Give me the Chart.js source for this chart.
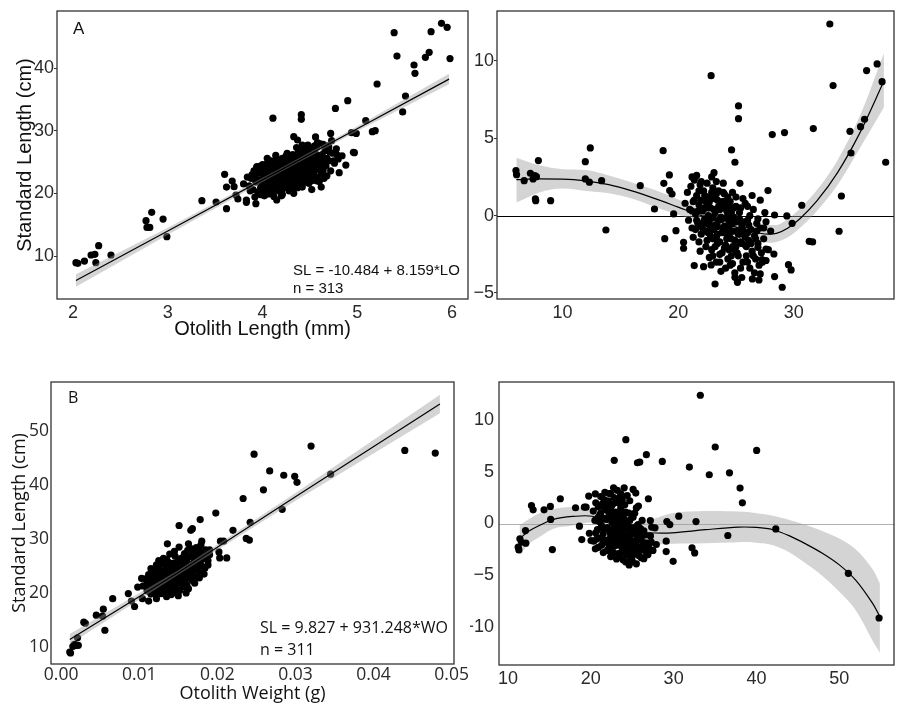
<!DOCTYPE html>
<html><head><meta charset="utf-8">
<script src="https://cdn.jsdelivr.net/npm/chart.js@4.4.1/dist/chart.umd.min.js"></script>
<style>
html,body{margin:0;padding:0;background:#fff;}
#wrap{position:relative;width:898px;height:705px;overflow:hidden;background:#fff;}
canvas{position:absolute;}
</style></head><body>
<div id="wrap">
<canvas id="cA" width="480" height="345" style="left:0;top:0"></canvas>
<canvas id="cTR" width="428" height="345" style="left:470px;top:0"></canvas>
<canvas id="cB" width="480" height="360" style="left:0;top:345px"></canvas>
<canvas id="cBR" width="428" height="360" style="left:470px;top:345px"></canvas>
</div>
<script>
// ---------------- Panel A: Standard Length vs Otolith Length ----------------
const aTicksX = [2, 3, 4, 5, 6];
const aTicksY = [10, 20, 30, 40];
const aPointsOuter = [[2.03,8.94],[2.05,8.83],[2.12,9.2],[2.19,10.16],[2.23,10.27],[2.24,8.94],[2.27,11.65],[2.40,10.16],[2.77,15.64],[2.78,14.57],[2.81,14.57],[2.83,16.97],[2.95,15.9],[2.99,13.09],[3.36,18.83],[3.51,18.62],[3.60,23.03],[3.62,17.55],[3.62,21.0],[3.68,21.97],[3.70,21.06],[3.72,19.73],[3.74,19.1],[3.83,18.94],[3.83,18.56],[3.93,18.35],[3.94,24.26],[4.11,32.0],[4.14,26.06],[4.15,18.94],[4.33,29.04],[4.37,28.51],[4.41,32.55],[4.41,31.81],[4.42,27.71],[4.72,29.57],[4.77,33.56],[4.79,26.12],[4.88,24.52],[4.90,34.79],[4.94,29.68],[4.96,26.54],[4.97,26.49],[4.99,29.57],[5.09,31.6],[5.16,29.84],[5.19,30.0],[5.21,37.45],[5.39,45.64],[5.42,41.9],[5.48,33.0],[5.51,35.53],[5.60,40.48],[5.61,39.15],[5.72,41.7],[5.76,42.5],[5.78,45.8],[5.89,47.13],[5.95,46.5],[5.98,41.5]];
const aPointsCluster = [[3.86,21.2],[3.88,22.4],[3.90,20.6],[3.91,23.6],[3.93,21.8],[3.94,24.1],[3.95,20.2],[3.89,23.0],[3.96,22.1],[3.97,24.3],[3.98,20.9],[3.99,23.3],[4.00,21.5],[4.01,22.8],[4.02,20.1],[4.03,24.0],[4.04,21.9],[4.05,23.1],[3.98,19.8],[4.02,19.6],[4.04,22.5],[4.06,20.7],[4.07,24.5],[4.08,22.2],[4.09,21.2],[4.10,23.6],[4.11,19.9],[4.12,22.9],[4.13,24.9],[4.14,21.5],[4.15,23.2],[4.07,20.3],[4.09,25.2],[4.11,22.0],[4.13,20.6],[4.15,24.3],[4.06,23.4],[4.10,21.0],[4.12,19.5],[4.16,22.6],[4.17,20.4],[4.18,24.7],[4.19,21.8],[4.20,23.9],[4.21,25.6],[4.22,20.8],[4.23,22.3],[4.24,24.1],[4.25,21.3],[4.17,23.3],[4.19,25.1],[4.21,19.8],[4.23,23.6],[4.25,26.0],[4.18,22.0],[4.20,20.2],[4.22,24.8],[4.24,22.9],[4.16,21.1],[4.26,23.5],[4.27,21.9],[4.28,25.3],[4.29,20.6],[4.30,24.2],[4.31,22.7],[4.32,26.2],[4.33,21.4],[4.34,23.8],[4.35,25.0],[4.27,24.6],[4.29,22.4],[4.31,20.5],[4.33,24.9],[4.35,22.1],[4.26,26.4],[4.28,23.0],[4.30,21.3],[4.32,23.4],[4.34,20.9],[4.36,24.4],[4.37,22.6],[4.38,26.6],[4.39,21.6],[4.40,25.4],[4.41,23.1],[4.42,27.0],[4.43,22.3],[4.44,24.7],[4.45,26.1],[4.37,20.9],[4.39,23.9],[4.41,21.1],[4.43,25.8],[4.45,23.4],[4.36,27.3],[4.38,24.0],[4.40,22.0],[4.42,21.0],[4.44,26.8],[4.46,24.2],[4.47,22.4],[4.48,26.4],[4.49,23.3],[4.50,25.6],[4.51,27.2],[4.52,22.0],[4.53,24.8],[4.54,26.9],[4.55,23.6],[4.47,27.6],[4.49,21.6],[4.51,25.0],[4.53,22.8],[4.55,25.9],[4.46,23.0],[4.56,24.4],[4.57,27.4],[4.58,22.6],[4.59,25.7],[4.60,24.0],[4.61,27.9],[4.62,23.3],[4.63,26.2],[4.64,25.1],[4.65,22.4],[4.58,28.1],[4.60,21.9],[4.66,26.8],[4.67,24.4],[4.69,27.6],[4.70,25.2],[4.72,23.6],[4.74,26.4],[4.76,24.8],[4.78,27.1],[4.68,22.8],[4.73,28.4],[4.80,25.5],[3.80,21.5],[3.84,22.6],[4.52,20.6],[4.62,21.0],[4.84,26.0],[4.81,23.3],[4.56,29.0],[4.05,25.6],[3.92,19.4],[4.48,27.7],[4.55,27.6],[4.64,27.8],[4.70,27.4],
  [4.01,21.0],[4.03,22.3],[4.05,21.6],[4.07,22.9],[4.08,21.0],[4.10,22.4],[4.12,23.9],[4.13,21.9],[4.15,22.6],[4.16,24.0],[4.18,21.4],[4.19,23.2],[4.20,22.5],[4.21,24.3],[4.23,21.7],[4.24,25.0],[4.25,23.0],[4.26,22.0],[4.27,25.4],[4.28,24.2],[4.29,21.9],[4.30,23.0],[4.31,25.8],[4.32,24.5],[4.33,22.6],[4.34,25.6],[4.35,24.0],[4.36,22.9],[4.37,25.5],[4.38,23.5],[4.39,26.2],[4.40,24.5],[4.41,26.0],[4.42,22.5],[4.43,24.0],[4.44,25.5],[4.45,24.7],[4.46,26.9],[4.47,25.3],[4.48,23.8],[4.49,26.0],[4.50,24.4],[4.51,23.4],[4.52,26.5],[4.53,25.6],[4.54,24.0],[4.56,26.3],[4.57,25.2],[4.59,24.3],[4.61,26.0],[4.63,24.6],[4.15,25.5],[4.12,20.8],[4.18,23.0],[4.22,21.6],[4.05,24.8],[3.96,23.2],[4.00,24.6],[4.09,23.0],[4.28,20.4],[4.36,21.5],[4.46,21.8],[3.92,22.4],[3.87,20.4],[4.06,19.9],[4.20,19.6],[4.33,20.0],[4.57,22.0],[4.68,25.6],[4.71,26.6],[4.64,23.7],[4.75,25.2]];
const aFitX  = [2.03, 3.0, 4.2, 5.0, 5.97];
const aFitY  = [6.08, 13.99, 23.79, 30.31, 38.23];
const aBandHi = [7.1, 14.5, 24.1, 30.7, 39.1];
const aBandLo = [5.1, 13.4, 23.5, 29.9, 37.4];

// ---------------- Panel top-right: residuals vs fitted (length) ----------------
const trTicksX = [10, 20, 30];
const trTicksY = [-5, 0, 5, 10];
const trPointsOuter = [[5.97,2.91],[6.02,2.65],[6.68,2.26],[7.22,2.74],[7.45,2.37],[7.6,2.59],[7.74,2.52],[7.65,1.08],[7.68,0.97],[7.91,3.56],[8.97,0.97],[11.97,3.49],[11.97,2.37],[12.32,2.16],[12.40,4.38],[13.38,2.26],[13.75,-0.93],[16.72,1.94],[17.95,0.43],[18.70,4.20],[18.76,2.09],[18.84,-1.49],[19.24,2.63],[19.27,1.62],[19.47,1.40],[19.61,0.11],[19.81,-0.97],[20.47,-1.72],[20.47,-2.11],[21.39,-3.23],[22.85,9.05],[23.10,2.78],[23.19,-4.42],[22.85,-3.19],[24.62,4.25],[24.91,3.45],[25.22,7.09],[25.22,6.27],[25.34,2.09],[24.91,-3.99],[25.13,-4.31],[27.77,1.62],[28.14,5.24],[28.34,0.04],[28.28,-2.48],[28.34,-3.94],[29.0,-4.63],[29.2,5.37],[29.4,-0.02],[29.54,-3.17],[29.77,-3.51],[29.86,-0.5],[30.69,0.67],[31.34,-1.66],[31.63,-1.70],[31.69,5.63],[33.12,12.39],[33.40,8.41],[33.92,-1.01],[34.12,1.27],[34.86,5.45],[34.95,4.05],[35.78,5.75],[36.12,6.23],[36.3,9.38],[37.21,9.81],[37.64,8.66],[37.95,3.45],[26.42,-4.09],[26.99,-4.16],[26.9,-2.05],[27.6,-2.16],[27.6,-2.9],[27.25,-2.84],[27.1,-3.77]];
const trPointsCluster = [[20.6,0.8],[20.8,1.5],[20.9,-0.3],[21.0,0.4],[21.1,1.9],[21.2,-0.8],[21.3,0.9],[21.4,2.3],[21.5,0.1],[21.6,1.3],[21.7,-0.5],[21.8,0.7],[21.9,2.0],[22.0,-1.2],[22.1,0.3],[22.2,1.6],[22.3,-0.2],[22.4,0.9],[22.5,-1.6],[22.6,1.2],[22.7,-0.6],[22.8,0.5],[22.9,-2.2],[23.0,1.8],[23.1,-0.9],[23.2,0.2],[23.3,-1.4],[23.4,1.0],[23.5,-0.3],[23.6,-2.5],[23.7,0.6],[23.8,-1.1],[23.9,1.5],[24.0,-0.7],[24.1,-1.9],[24.2,0.3],[24.3,-2.8],[24.4,-0.4],[24.5,0.9],[24.6,-1.5],[24.7,-3.1],[24.8,-0.1],[24.9,-2.2],[25.0,0.6],[25.1,-1.0],[25.2,-2.6],[25.3,0.2],[25.4,-1.7],[25.5,-0.6],[25.6,-3.0],[25.7,-1.2],[25.8,0.8],[25.9,-2.0],[26.0,-0.3],[26.1,-1.6],[26.2,-3.4],[26.3,-0.9],[26.4,-2.3],[26.5,0.4],[26.6,-1.3],[26.7,-2.8],[26.8,-0.5],[26.9,-1.8],[27.0,-3.2],[27.1,-0.8],[27.2,-2.4],[27.4,-1.5],[27.6,-0.4],[21.5,-0.9],[21.8,-1.7],[22.0,1.0],[22.2,-0.4],[22.4,-1.0],[22.6,0.0],[22.8,-1.3],[23.0,-0.1],[23.2,-2.0],[23.4,-0.7],[23.6,0.4],[23.8,-0.2],[24.0,0.9],[24.2,-1.2],[24.4,-2.2],[24.6,0.2],[24.8,-1.0],[25.0,-2.0],[25.2,-0.3],[25.4,0.5],[25.6,-0.9],[25.8,-1.9],[26.0,-1.1],[26.2,0.0],[23.1,1.1],[23.5,1.6],[24.3,1.2],[22.5,2.1],[21.9,-2.3],[22.7,-2.7],[23.3,-3.0],[24.1,-3.4],[24.9,-3.7],[25.5,-4.0],[23.7,-3.6],[22.2,-3.3],[26.6,-3.7],[27.3,-3.0],[27.8,-2.2],[28.0,-1.0],[27.5,0.2],[27.1,1.0],[26.4,1.3],[25.6,1.1],[24.7,1.5],[23.9,2.1],[22.9,2.5],[21.6,2.6],[21.2,2.5],[24.4,-0.8],[23.4,-1.8],[22.9,-0.9],[24.7,-2.0],[25.3,-1.2],[23.8,-2.4],[24.2,-0.1],[22.3,0.5],[21.7,0.3],[26.8,-1.0],
  [21.2,0.3],[21.4,1.0],[21.6,-0.3],[21.8,1.6],[22.0,0.4],[22.1,-0.8],[22.3,1.3],[22.5,0.5],[22.6,-1.1],[22.7,0.9],[22.8,-0.2],[22.9,1.5],[23.0,-1.5],[23.1,0.4],[23.2,-0.6],[23.3,1.4],[23.4,-1.2],[23.5,0.6],[23.6,-1.7],[23.7,-0.1],[23.8,0.9],[23.9,-0.9],[24.0,-2.1],[24.1,0.5],[24.2,-1.5],[24.3,-0.2],[24.4,0.6],[24.5,-1.1],[24.6,-2.6],[24.7,-0.5],[24.8,0.5],[24.9,-1.6],[25.0,-0.4],[25.1,-2.4],[25.2,-1.2],[25.3,-0.2],[25.5,-1.8],[25.6,-0.4],[25.8,-1.4],[25.9,-2.6],[26.1,-0.6],[26.3,-1.8],[26.5,-2.6],[26.7,-1.5],[22.4,-2.0],[23.0,-2.6],[23.6,-3.0],[24.5,-3.2],[25.4,-3.4],[26.0,-3.0],[21.3,-1.4],[21.9,-0.6],[22.5,-0.5],[24.0,1.4],[23.3,2.2],[22.0,2.2],[25.0,1.2],[26.0,0.6],[26.9,-0.2],[27.4,-0.8]];
const trCurveX = [6, 8, 10, 12, 14, 16, 18, 20, 22, 24, 26, 27.8, 28.5, 29.5, 30.6, 32, 33.8, 35.75, 37.8];
const trCurveY = [2.33, 2.37, 2.36, 2.25, 2.0, 1.6, 1.1, 0.55, 0.0, -0.5, -0.95, -1.2, -1.15, -0.8, -0.15, 0.95, 2.8, 5.4, 8.7];
const trBandHi = [3.75, 3.25, 3.0, 2.95, 2.6, 2.15, 1.65, 1.05, 0.45, -0.1, -0.45, -0.6, -0.6, -0.2, 0.5, 1.65, 3.6, 6.5, 10.5];
const trBandLo = [0.85, 1.5, 1.75, 1.6, 1.45, 1.1, 0.55, 0.05, -0.4, -0.85, -1.4, -1.75, -1.7, -1.4, -0.75, 0.3, 2.0, 4.4, 7.0];

// ---------------- Panel B: Standard Length vs Otolith Weight ----------------
const bTicksX = [0, 0.01, 0.02, 0.03, 0.04, 0.05];
const bTickLabelsX = ['0.00', '0.01', '0.02', '0.03', '0.04', '0.05'];
const bTicksY = [10, 20, 30, 40, 50];
const bPointsOuter = [[0.0011,9.07],[0.0012,8.89],[0.0015,10.1],[0.0017,10.5],[0.0019,10.3],[0.0021,11.7],[0.0022,10.3],[0.0029,14.6],[0.0031,14.4],[0.0045,15.9],[0.0053,15.7],[0.0054,17.0],[0.0056,13.1],[0.0066,18.95],[0.0086,19.9],[0.0090,18.5],[0.0094,17.5],[0.0098,21.1],[0.0103,22.7],[0.0104,18.95],[0.0112,18.5],[0.0122,18.95],[0.0136,29.1],[0.0151,32.5],[0.0166,31.6],[0.0168,31.9],[0.0178,33.6],[0.0180,29.6],[0.0183,27.3],[0.0198,34.8],[0.0202,27.6],[0.0203,26.5],[0.0204,29.6],[0.0208,29.6],[0.0212,26.5],[0.0220,31.6],[0.0233,37.5],[0.0237,30.1],[0.0241,29.8],[0.0242,33.1],[0.0247,45.7],[0.0259,39.1],[0.0267,42.6],[0.0283,35.5],[0.0285,41.8],[0.0299,41.6],[0.0302,40.5],[0.0320,47.2],[0.0345,42.0],[0.0440,46.4],[0.0479,45.9],[0.0190,28.0],[0.0188,26.0]];
const bPointsCluster = [[0.0105,21.3],[0.0108,22.6],[0.0110,20.4],[0.0112,23.4],[0.0113,21.7],[0.0115,19.8],[0.0116,22.9],[0.0118,24.2],[0.0119,20.9],[0.0120,22.1],[0.0121,23.8],[0.0122,19.5],[0.0123,21.5],[0.0124,24.9],[0.0125,22.6],[0.0126,20.3],[0.0127,23.3],[0.0128,21.0],[0.0129,25.4],[0.0130,22.4],[0.0131,20.0],[0.0132,24.0],[0.0133,21.8],[0.0134,23.1],[0.0135,26.2],[0.0136,20.7],[0.0137,22.8],[0.0138,24.6],[0.0139,21.4],[0.0140,23.6],[0.0141,19.7],[0.0142,25.5],[0.0143,22.2],[0.0144,24.3],[0.0145,20.9],[0.0146,26.8],[0.0147,23.0],[0.0148,21.6],[0.0149,25.0],[0.0150,22.5],[0.0151,24.7],[0.0152,20.5],[0.0153,23.9],[0.0154,26.4],[0.0155,22.0],[0.0156,24.4],[0.0157,21.2],[0.0158,27.3],[0.0159,23.4],[0.0160,25.6],[0.0161,22.7],[0.0162,24.9],[0.0163,20.8],[0.0164,26.7],[0.0165,23.6],[0.0166,28.2],[0.0167,25.1],[0.0168,22.3],[0.0169,27.0],[0.0170,24.2],[0.0171,26.0],[0.0172,23.0],[0.0173,28.4],[0.0174,25.4],[0.0176,24.0],[0.0178,26.8],[0.0180,25.0],[0.0182,27.5],[0.0184,24.6],[0.0186,26.3],[0.0188,25.2],[0.0190,27.1],[0.0118,21.0],[0.0124,22.0],[0.0128,23.9],[0.0133,20.4],[0.0137,25.7],[0.0141,22.6],[0.0145,23.3],[0.0149,21.9],[0.0153,25.9],[0.0157,23.8],[0.0161,21.5],[0.0165,25.0],[0.0169,23.0],[0.0173,24.6],[0.0177,22.8],[0.0139,27.2],[0.0151,28.5],[0.0131,26.4],[0.0122,25.2],[0.0115,24.5],[0.0110,22.3],[0.0160,20.0],[0.0150,19.5],[0.0171,21.8],[0.0183,23.5],[0.0163,29.1],[0.0179,28.9],
  [0.0110,21.1],[0.0113,20.3],[0.0116,21.4],[0.0119,22.5],[0.0121,20.6],[0.0123,22.9],[0.0125,21.3],[0.0127,24.2],[0.0129,22.1],[0.0130,23.6],[0.0132,21.2],[0.0134,24.6],[0.0135,22.6],[0.0137,23.9],[0.0138,21.9],[0.0140,25.1],[0.0141,23.2],[0.0143,24.8],[0.0144,21.8],[0.0146,23.7],[0.0147,25.6],[0.0148,22.7],[0.0150,24.1],[0.0151,26.1],[0.0152,23.2],[0.0154,25.0],[0.0155,23.8],[0.0156,26.6],[0.0158,24.9],[0.0159,22.6],[0.0161,26.2],[0.0162,23.9],[0.0164,25.3],[0.0166,24.0],[0.0167,26.9],[0.0169,25.5],[0.0171,27.5],[0.0172,24.9],[0.0175,26.4],[0.0177,27.8],[0.0180,26.2],[0.0128,19.9],[0.0139,20.4],[0.0145,27.7],[0.0125,26.0],[0.0118,23.1],[0.0135,19.3],[0.0156,21.3],[0.0162,27.9],[0.0170,22.5],[0.0176,25.1],[0.0185,28.0],[0.0146,20.1],[0.0133,25.5]];
const bFitX   = [0.0011, 0.015, 0.030, 0.0485];
const bFitY   = [11.4, 23.8, 37.8, 55.0];
const bBandHi = [12.4, 24.2, 38.5, 56.7];
const bBandLo = [10.5, 23.4, 37.1, 53.3];

// ---------------- Panel bottom-right: residuals vs fitted (weight) ----------------
const brTicksX = [10, 20, 30, 40, 50];
const brTicksY = [-10, -5, 0, 5, 10];
const brPointsOuter = [[11.24,-2.29],[11.32,-2.55],[11.44,-1.48],[11.64,-1.81],[12.12,-0.68],[12.16,-1.9],[12.84,1.74],[13.04,1.32],[14.36,1.32],[15.12,1.65],[15.16,0.39],[15.36,-2.52],[16.32,2.39],[18.16,1.52],[18.63,-0.26],[18.91,-1.55],[19.23,1.58],[19.43,1.58],[19.75,2.65],[19.83,-0.94],[20.03,-1.65],[20.35,-1.71],[20.55,2.87],[20.55,-2.45],[21.51,-2.81],[22.75,3.45],[22.83,6.1],[23.11,-3.42],[23.63,2.87],[24.03,3.45],[24.23,8.1],[24.55,-2.71],[24.63,-4.0],[25.03,-3.68],[25.11,3.29],[25.43,2.94],[25.63,5.87],[25.91,5.94],[25.75,1.68],[26.71,6.65],[26.95,2.39],[26.83,-3.0],[27.19,0.29],[27.35,-0.35],[27.75,-0.42],[27.91,-2.03],[28.63,6.0],[29.1,-1.71],[29.1,-2.71],[29.18,0.19],[29.54,-0.1],[29.94,-3.65],[30.62,0.71],[31.9,5.45],[32.22,-2.35],[32.54,-2.84],[32.7,0.19],[33.22,12.39],[34.3,4.71],[35.02,7.39],[36.54,-1.16],[36.74,4.9],[38.02,3.42],[38.3,2.0],[40.02,7.06],[42.33,-0.52],[51.09,-4.81],[54.8,-9.13]];
const brPointsCluster = [[20.3,1.2],[20.5,0.3],[20.6,2.0],[20.8,-0.6],[20.9,1.6],[21.0,-1.4],[21.1,0.8],[21.2,2.6],[21.3,-0.2],[21.4,1.9],[21.5,-1.0],[21.6,0.5],[21.7,3.0],[21.8,-1.8],[21.9,1.3],[22.0,-0.4],[22.1,2.2],[22.2,-2.3],[22.3,0.9],[22.4,-1.2],[22.5,1.7],[22.6,0.1],[22.7,-2.8],[22.8,2.5],[22.9,-0.7],[23.0,1.1],[23.1,-1.6],[23.2,0.4],[23.3,2.0],[23.4,-2.1],[23.5,-0.3],[23.6,1.4],[23.7,-1.0],[23.8,-2.6],[23.9,0.7],[24.0,-1.5],[24.1,1.8],[24.2,-0.5],[24.3,-3.0],[24.4,0.2],[24.5,-2.0],[24.6,1.0],[24.7,-1.2],[24.8,-3.3],[24.9,-0.4],[25.0,-2.4],[25.1,0.6],[25.2,-1.7],[25.3,-2.9],[25.4,-0.9],[25.5,1.5],[25.6,-2.2],[25.7,-1.3],[25.8,-3.1],[25.9,-0.6],[26.0,-2.5],[26.1,-1.6],[26.2,0.3],[26.3,-2.0],[26.4,-3.4],[26.5,-1.1],[26.6,-2.7],[26.8,-1.9],[27.0,-2.3],[27.2,-1.2],[27.5,-2.6],[21.0,0.2],[21.4,-0.4],[21.8,0.4],[22.2,1.0],[22.6,-0.9],[23.0,-0.2],[23.4,0.9],[23.8,0.1],[24.2,-1.9],[24.6,-0.6],[25.0,-1.0],[25.4,-1.9],[22.0,-1.6],[22.4,2.9],[23.6,2.7],[21.3,-2.1],[20.7,-1.5],[22.9,-1.3],[23.9,-1.1],[24.4,-2.5],[25.7,-0.1],[26.0,-0.5],[25.1,-2.6],[24.7,2.2],[23.2,3.2],[21.6,2.3],[20.9,-2.3],[22.4,-3.2],[23.5,-3.1],[26.9,-3.0],
  [21.2,1.0],[21.4,0.4],[21.6,1.6],[21.8,-0.5],[22.0,1.9],[22.1,0.5],[22.3,-0.8],[22.4,1.3],[22.5,-1.7],[22.6,0.7],[22.7,1.9],[22.8,-0.3],[22.9,0.9],[23.0,-1.1],[23.1,2.3],[23.2,-0.6],[23.3,0.8],[23.4,-1.5],[23.5,1.9],[23.6,0.0],[23.7,-2.0],[23.8,1.1],[23.9,-0.5],[24.0,0.4],[24.1,-2.5],[24.2,1.1],[24.3,-1.2],[24.4,-0.1],[24.5,-1.5],[24.6,-2.8],[24.7,0.3],[24.8,-1.9],[24.9,-0.9],[25.0,0.8],[25.2,-0.8],[25.3,-2.2],[25.5,-0.3],[25.6,-1.5],[25.8,-2.6],[26.0,-1.2],[26.2,-2.2],[26.4,-0.7],[26.6,-1.9],[26.8,-2.8],[21.5,-1.6],[22.0,-2.6],[22.8,-2.2],[23.3,-2.9],[23.9,-3.5],[24.2,-3.7],[25.0,-3.2],[25.5,-3.9],[20.6,-0.9],[20.9,0.6],[22.2,2.9],[23.8,2.3],[24.4,2.7],[25.3,1.0],[26.1,-3.3],[27.3,-1.8]];
const brCurveX = [11.4, 12.5, 13.8, 15.5, 17.8, 20.2, 22, 24, 25.8, 27.8, 29.8, 33.8, 37.8, 40, 42, 44, 46, 48, 50, 52, 54, 54.9];
const brCurveY = [-1.48, -0.75, -0.2, 0.4, 0.68, 0.7, 0.1, -0.5, -0.84, -0.92, -0.9, -0.6, -0.35, -0.38, -0.6, -1.2, -2.0, -2.9, -4.0, -5.5, -7.7, -9.0];
const brBandHi = [-0.2, 0.4, 1.0, 1.4, 1.58, 1.3, 0.6, 0.2, 0.1, 0.5, 1.0, 1.2, 1.15, 1.0, 0.75, 0.35, -0.15, -0.75, -1.45, -2.5, -4.4, -5.8];
const brBandLo = [-3.1, -2.0, -1.3, -0.5, -0.2, 0.1, -0.4, -1.1, -1.7, -2.0, -1.95, -1.9, -1.8, -1.85, -2.1, -2.8, -3.9, -5.1, -6.6, -8.4, -11.3, -12.5];

// ---------------- helpers ----------------
const pts = arr => arr.map(p => ({x: p[0], y: p[1]}));
const xy = (xs, ys) => xs.map((x, i) => ({x: x, y: ys[i]}));
const minus = v => String(v).replace('-', '\u2212');
const BAND = 'rgba(153,153,153,0.42)';

const deco = {
  id: 'deco',
  beforeDatasetsDraw(chart, args, o) {
    if (!o.zero) return;
    const {ctx, chartArea: a, scales} = chart;
    const y = Math.round(scales.y.getPixelForValue(0)) + 0.5;
    ctx.save();
    ctx.strokeStyle = o.zero; ctx.lineWidth = 1;
    ctx.beginPath(); ctx.moveTo(a.left, y); ctx.lineTo(a.right, y); ctx.stroke();
    ctx.restore();
  },
  afterDatasetsDraw(chart, args, o) {
    const {ctx, chartArea: a} = chart;
    ctx.save();
    ctx.strokeStyle = '#333'; ctx.lineWidth = 1.3;
    ctx.strokeRect(a.left, a.top, a.right - a.left, a.bottom - a.top);
    ctx.fillStyle = '#111'; ctx.textBaseline = 'middle'; ctx.textAlign = 'left';
    if (o.label) { ctx.font = o.labelFont; ctx.fillText(o.label, a.left + o.labelDx, a.top + o.labelDy); }
    if (o.eq) { ctx.font = o.eqFont; o.eq.forEach((t, i) => ctx.fillText(t, a.left + o.eqDx, a.bottom - o.eqDy + i * o.eqGap)); }
    ctx.restore();
  }
};

function curveOpts(mode) {
  if (mode === 'mono') return {cubicInterpolationMode: 'monotone'};
  if (mode === 'smooth') return {tension: 0.35};
  return {tension: 0};
}
function scatterSet(arr, order) {
  return {type: 'scatter', data: pts(arr), pointRadius: 3.6, pointBackgroundColor: '#000', backgroundColor: '#000', borderWidth: 0, pointBorderWidth: 0, order: order};
}
function bandSets(xs, hi, lo, order, mode) {
  const extra = curveOpts(mode);
  return [
    Object.assign({type: 'line', data: xy(xs, hi), borderWidth: 0, borderColor: 'rgba(0,0,0,0)', pointRadius: 0, fill: false, order: order}, extra),
    Object.assign({type: 'line', data: xy(xs, lo), borderWidth: 0, borderColor: 'rgba(0,0,0,0)', pointRadius: 0, fill: '-1', backgroundColor: BAND, order: order}, extra)
  ];
}
function lineSet(xs, ys, order, mode) {
  return Object.assign({type: 'line', data: xy(xs, ys), borderColor: '#000', borderWidth: 1.2, pointRadius: 0, fill: false, order: order}, curveOpts(mode));
}

function build(id, p) {
  return new Chart(document.getElementById(id), {
    type: 'scatter',
    data: {datasets: p.datasets},
    options: {
      responsive: false, animation: false, devicePixelRatio: 1,
      events: [],
      layout: {padding: p.pad},
      plugins: {legend: {display: false}, tooltip: {enabled: false}, deco: p.deco},
      scales: {
        x: {
          type: 'linear', min: p.xMin, max: p.xMax,
          afterFit: s => { s.height = p.xH; },
          afterBuildTicks: s => { s.ticks = p.xTicks.map(v => ({value: v})); },
          grid: {display: p.xTickLen > 0, drawOnChartArea: false, drawTicks: p.xTickLen > 0, tickLength: p.xTickLen, color: '#333'},
          border: {display: false},
          ticks: {padding: p.xTickPad, color: '#2a2a2a', font: p.tickFont, maxRotation: 0, autoSkip: false,
                  callback: (v, i) => p.xLabels[i]},
          title: {display: !!p.xTitle, text: p.xTitle, color: '#111', font: p.titleFont, padding: {top: 0, bottom: p.xTitlePad}}
        },
        y: {
          type: 'linear', min: p.yMin, max: p.yMax,
          afterFit: s => { s.width = p.yW; },
          afterBuildTicks: s => { s.ticks = p.yTicks.map(v => ({value: v})); },
          grid: {display: p.yTickLen > 0, drawOnChartArea: false, drawTicks: p.yTickLen > 0, tickLength: p.yTickLen, color: '#333'},
          border: {display: false},
          ticks: {padding: p.yTickPad, color: '#2a2a2a', font: p.tickFont, autoSkip: false,
                  callback: (v, i) => p.yLabels[i]},
          title: {display: !!p.yTitle, text: p.yTitle, color: '#111', font: p.titleFont, padding: {top: p.yTitlePad, bottom: 0}}
        }
      }
    },
    plugins: [deco]
  });
}

const arialTicks = {family: '"Liberation Sans", Arial, sans-serif', size: 18};
const openTicks = {family: '"Open Sans", sans-serif', size: 17.5};

// Panel A
build('cA', {
  datasets: [scatterSet(aPointsOuter.concat(aPointsCluster), 3), ...bandSets(aFitX, aBandHi, aBandLo, 2, 'straight'), lineSet(aFitX, aFitY, 1, 'straight')],
  pad: {left: 0, top: 11, right: 12, bottom: 0},
  xMin: 1.83, xMax: 6.17, yMin: 3.14, yMax: 49.1,
  xTicks: aTicksX, xLabels: aTicksX.map(String), yTicks: aTicksY, yLabels: aTicksY.map(String),
  xH: 46, yW: 57, xTickLen: 0, yTickLen: 3, xTickPad: 3, yTickPad: 0,
  tickFont: arialTicks,
  titleFont: {family: '"Liberation Sans", Arial, sans-serif', size: 20},
  xTitle: 'Otolith Length (mm)', yTitle: 'Standard Length (cm)', xTitlePad: 4, yTitlePad: 13,
  deco: {label: 'A', labelFont: '17px "Liberation Sans", Arial, sans-serif', labelDx: 16, labelDy: 18,
         eq: ['SL = -10.484 + 8.159*LO', 'n = 313'], eqFont: '15px "Liberation Sans", Arial, sans-serif', eqDx: 236, eqDy: 28, eqGap: 18}
});

// Panel top-right
build('cTR', {
  datasets: [scatterSet(trPointsOuter.concat(trPointsCluster), 1), ...bandSets(trCurveX, trBandHi, trBandLo, 3, 'mono'), lineSet(trCurveX, trCurveY, 2, 'mono')],
  pad: {left: 0, top: 11, right: 1, bottom: 0},
  xMin: 4.33, xMax: 38.67, yMin: -5.39, yMax: 13.23,
  xTicks: trTicksX, xLabels: trTicksX.map(minus), yTicks: trTicksY, yLabels: trTicksY.map(minus),
  xH: 46, yW: 27, xTickLen: 0, yTickLen: 3, xTickPad: 3, yTickPad: 0,
  tickFont: arialTicks, titleFont: {size: 12},
  deco: {zero: '#000'}
});

// Panel B
build('cB', {
  datasets: [scatterSet(bPointsOuter.concat(bPointsCluster), 3), ...bandSets(bFitX, bBandHi, bBandLo, 2, 'straight'), lineSet(bFitX, bFitY, 1, 'straight')],
  pad: {left: 0, top: 37, right: 26, bottom: 0},
  xMin: -0.0013, xMax: 0.0503, yMin: 6.85, yMax: 59.07,
  xTicks: bTicksX, xLabels: bTickLabelsX, yTicks: bTicksY, yLabels: bTicksY.map(String),
  xH: 41, yW: 51, xTickLen: 0, yTickLen: 0, xTickPad: 1, yTickPad: 2,
  tickFont: openTicks,
  titleFont: {family: '"Open Sans", sans-serif', size: 18},
  xTitle: 'Otolith Weight (g)', yTitle: 'Standard Length (cm)', xTitlePad: 0, yTitlePad: 9,
  deco: {label: 'B', labelFont: '16px "Open Sans", sans-serif', labelDx: 17, labelDy: 16,
         eq: ['SL = 9.827 + 931.248*WO', 'n = 311'], eqFont: '16px "Open Sans", sans-serif', eqDx: 209, eqDy: 36, eqGap: 22}
});

// Panel bottom-right
build('cBR', {
  datasets: [scatterSet(brPointsOuter.concat(brPointsCluster), 1), ...bandSets(brCurveX, brBandHi, brBandLo, 3, 'smooth'), lineSet(brCurveX, brCurveY, 2, 'smooth')],
  pad: {left: 0, top: 37, right: 1, bottom: 0},
  xMin: 8.92, xMax: 56.6, yMin: -13.67, yMax: 13.67,
  xTicks: brTicksX, xLabels: brTicksX.map(minus), yTicks: brTicksY, yLabels: brTicksY.map(minus),
  xH: 40, yW: 29, xTickLen: 0, yTickLen: 0, xTickPad: 3, yTickPad: 5,
  tickFont: arialTicks, titleFont: {size: 12},
  deco: {zero: '#b0b0b0'}
});
</script>
</body></html>
